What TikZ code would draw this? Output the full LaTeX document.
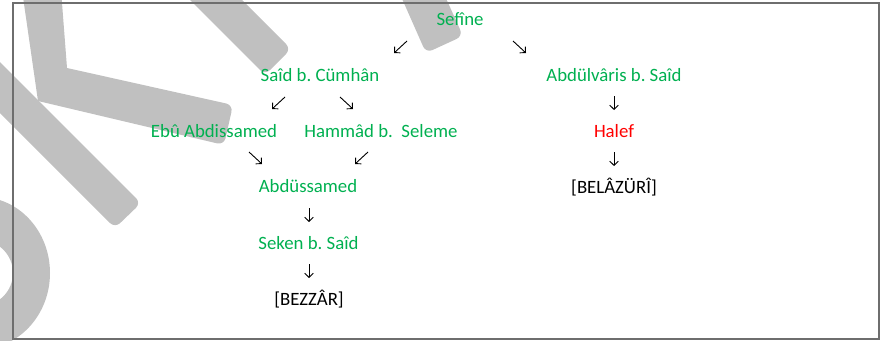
\documentclass[tikz,border=0pt]{standalone}
\usepackage{fontspec}
\setmainfont{Carlito}
\usetikzlibrary{arrows.meta}
\definecolor{wm}{RGB}{192,192,192}
\definecolor{grn}{RGB}{0,176,80}
\definecolor{rd}{RGB}{255,0,0}
\definecolor{framecol}{RGB}{110,110,110}
\frenchspacing
\begin{document}
\begin{tikzpicture}[x=1pt,y=-1pt,
  font=\fontsize{18.8}{22}\selectfont,
  person/.style={text=grn, anchor=base, inner sep=0pt},
  redperson/.style={text=rd, anchor=base, inner sep=0pt},
  source/.style={text=black, anchor=base, inner sep=0pt},
  arr/.style={-{Straight Barb[length=4.2pt,width=8.5pt]}, line width=0.9pt, black},
  wmark/.style={fill=wm}]
\useasboundingbox (0,0) rectangle (885,340);
% watermark
\begin{scope}
\clip (0,0) rectangle (885,340);
\fill[wmark] (22,-10) -- (61,-10) -- (67,68) [rounded corners=7pt] -- (233,105) -- (224,145) [sharp corners] -- (38,101) -- cycle;
\fill[wmark] (-25,37) -- (-25,88) [rounded corners=7pt] -- (115,228) -- (141,203) [sharp corners] -- cycle;
\fill[wmark] (175,-15) -- (227,-15) [rounded corners=7pt] -- (291,49) -- (265,75) [sharp corners] -- cycle;
\fill[wmark] (396,-15) -- (440,-15) [rounded corners=7pt] -- (463,36) -- (426,53) [sharp corners] -- cycle;
\fill[wmark, even odd rule] (-20,273) ellipse [x radius=70, y radius=76] (-20,273) ellipse [x radius=33, y radius=33];
\end{scope}
% frame
\draw[framecol, line width=1.1pt] (13,3) rectangle (879,339);
% persons
\node[person] (sefine) at (460,25) {Sefîne};
\node[person] (said) at (320,81) {Saîd b. Cümhân};
\node[person] (abdulvaris) at (614,81) {Abdülvâris b. Saîd};
\node[person] (ebu) at (214,137) {Ebû Abdissamed};
\node[person] (hammad) at (381,137) {Hammâd b.\ \ Seleme};
\node[redperson] (halef) at (614,137) {Halef};
\node[person] (abdussamed) at (308,192) {Abdüssamed};
\node[source] (belazuri) at (614,193) {[BELÂZÜRÎ]};
\node[person] (seken) at (308.5,249) {Seken b. Saîd};
\node[source] (bezzar) at (309,305) {[BEZZÂR]};
% arrow coordinates
\coordinate (a1s) at (407,41);  \coordinate (a1e) at (394,53);
\coordinate (a2s) at (513,41);  \coordinate (a2e) at (526,53);
\coordinate (a3s) at (285,97);  \coordinate (a3e) at (272,109);
\coordinate (a4s) at (340,97);  \coordinate (a4e) at (353,109);
\coordinate (a5s) at (249,152); \coordinate (a5e) at (262,164);
\coordinate (a6s) at (368,152); \coordinate (a6e) at (355,164);
\coordinate (v1s) at (614,96);  \coordinate (v1e) at (614,110);
\coordinate (v2s) at (614,152); \coordinate (v2e) at (614,166);
\coordinate (v3s) at (309,208); \coordinate (v3e) at (309,222);
\coordinate (v4s) at (309,264); \coordinate (v4e) at (309,278);
\draw[arr] (a1s) -- (a1e);
\draw[arr] (a2s) -- (a2e);
\draw[arr] (a3s) -- (a3e);
\draw[arr] (a4s) -- (a4e);
\draw[arr] (a5s) -- (a5e);
\draw[arr] (a6s) -- (a6e);
\draw[arr] (v1s) -- (v1e);
\draw[arr] (v2s) -- (v2e);
\draw[arr] (v3s) -- (v3e);
\draw[arr] (v4s) -- (v4e);
\end{tikzpicture}
\end{document}
